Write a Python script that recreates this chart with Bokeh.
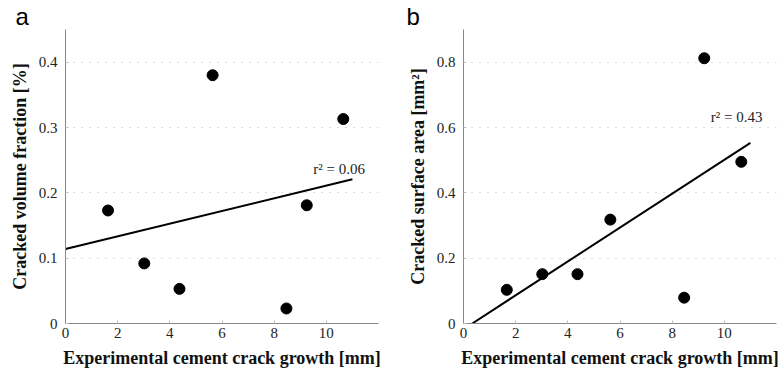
import numpy as np
from bokeh.plotting import figure
from bokeh.layouts import row
from bokeh.models import Range1d, FixedTicker, Label
from bokeh.embed import file_html
from bokeh.resources import INLINE

# ---- data ----
crack_growth = [1.63, 3.02, 4.37, 5.64, 8.47, 9.25, 10.65]
volume_fraction = [0.173, 0.092, 0.053, 0.380, 0.023, 0.181, 0.313]
crack_x_b = [1.66, 3.02, 4.37, 5.63, 8.46, 9.23, 10.65]
surface_area = [0.103, 0.151, 0.151, 0.318, 0.079, 0.812, 0.495]

x_ticks = [0, 2, 4, 6, 8, 10]
y_ticks_a = [0, 0.1, 0.2, 0.3, 0.4]
y_ticks_b = [0, 0.2, 0.4, 0.6, 0.8]

x_label = "Experimental cement crack growth [mm]"
y_label_a = "Cracked volume fraction [%]"
y_label_b = "Cracked surface area [mm²]"

SERIF = "Liberation Serif"


def make_panel(xs, ys, y_max, y_ticks, y_label, letter, left, right, r2_pos, letter_dx):
    p = figure(frame_width=313, frame_height=294, output_backend="svg",
               toolbar_location=None, x_range=Range1d(0, 12), y_range=Range1d(0, y_max),
               min_border_left=left, min_border_right=right, min_border_top=25,
               min_border_bottom=58, title=letter)
    p.title.text_font = "Liberation Sans"
    p.title.text_font_style = "normal"
    p.title.text_font_size = "24px"
    p.title.text_color = "black"
    p.title.align = "left"
    p.title.offset = letter_dx
    p.title.standoff = 0
    p.outline_line_color = None
    p.background_fill_color = "white"
    p.border_fill_color = "white"
    p.xgrid.grid_line_color = None
    p.ygrid.grid_line_color = "#b8b8b8"
    p.ygrid.grid_line_dash = "1 7"
    p.ygrid.grid_line_width = 1

    p.xaxis.ticker = FixedTicker(ticks=x_ticks)
    p.yaxis.ticker = FixedTicker(ticks=y_ticks)
    p.xaxis.major_label_overrides = {0: "0"}
    p.yaxis.major_label_overrides = {0: "0"}
    for ax in (p.xaxis, p.yaxis):
        ax.axis_line_color = "#888888"
        ax.axis_line_width = 1
        ax.major_tick_in = 3
        ax.major_tick_out = 0
        ax.major_tick_line_color = "#c0c0c0"
        ax.minor_tick_line_color = None
        ax.major_label_text_font = SERIF
        ax.major_label_text_font_size = "15px"
        ax.major_label_text_color = "#222222"
        ax.axis_label_text_font = SERIF
        ax.axis_label_text_font_style = "bold"
        ax.axis_label_text_font_size = "18px"
        ax.axis_label_text_color = "#111111"
    p.xaxis.major_label_standoff = 4
    p.yaxis.major_label_standoff = 8
    p.xaxis.axis_label_standoff = 7
    p.yaxis.axis_label_standoff = 6
    p.xaxis.axis_label = x_label
    p.yaxis.axis_label = y_label

    # least-squares fit from the data
    slope, intercept = np.polyfit(xs, ys, 1)
    r2 = np.corrcoef(xs, ys)[0, 1] ** 2
    x0 = -intercept / slope if intercept < 0 else 0.0
    x1 = 11.0
    p.line([x0, x1], [intercept + slope * x0, intercept + slope * x1],
           line_color="black", line_width=2)

    p.scatter(xs, ys, size=11, color="black")

    p.add_layout(Label(x=r2_pos[0], y=r2_pos[1], text=f"r² = {r2:.2f}",
                       text_font=SERIF, text_font_size="15px", text_color="#222222",
                       text_baseline="alphabetic"))
    return p


pa = make_panel(crack_growth, volume_fraction, 0.45, y_ticks_a, y_label_a, "a",
                65, 22, (9.5, 0.237), -50)
pb = make_panel(crack_x_b, surface_area, 0.9, y_ticks_b, y_label_b, "b",
                63, 2, (9.48, 0.631), -57)

p = row(pa, pb)
open("out.html", "w").write(file_html(p, INLINE))
